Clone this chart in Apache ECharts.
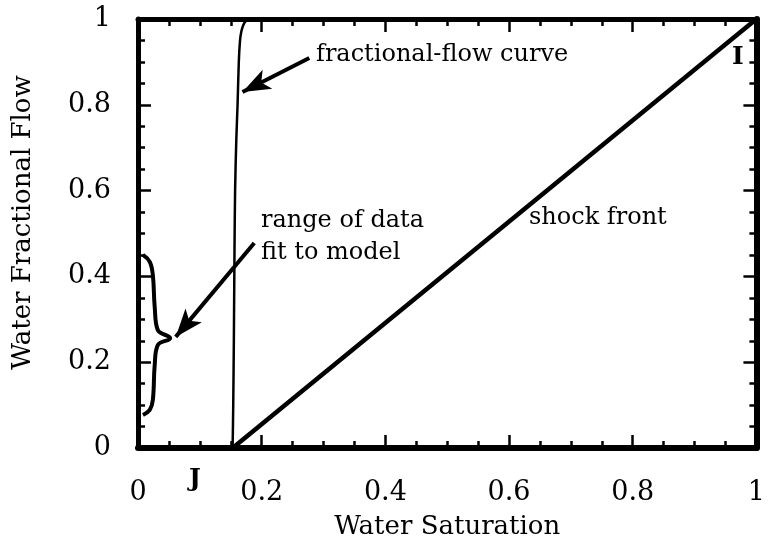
<!DOCTYPE html>
<html>
<head>
<meta charset="utf-8">
<script src="https://cdn.jsdelivr.net/npm/echarts@6/dist/echarts.min.js"></script>
<style>html,body{margin:0;padding:0;background:#fff}#c{width:768px;height:552px}</style>
</head>
<body>
<div id="c"></div>
<script>
// ---- data ----
var ffSw = [0.153, 0.154, 0.155, 0.156, 0.157, 0.159, 0.161, 0.163, 0.165, 0.167, 0.170, 0.174, 0.179, 0.187];
var ffFw = [0, 0.1, 0.25, 0.45, 0.6, 0.72, 0.8, 0.9, 0.95, 0.97, 0.985, 0.995, 1.0, 1.0];
var shockSw = [0.153, 1.0];
var shockFw = [0, 1.0];
var braceSw = [0.008, 0.019, 0.024, 0.027, 0.032, 0.052, 0.032, 0.027, 0.024, 0.019, 0.008];
var braceFw = [0.450, 0.434, 0.403, 0.329, 0.275, 0.256, 0.240, 0.193, 0.112, 0.089, 0.077];
var arrowFF = [[0.277, 0.909], [0.169, 0.830]];
var arrowRange = [[0.188, 0.478], [0.061, 0.259]];
var xTicks = [0, 0.2, 0.4, 0.6, 0.8, 1];
var yTicks = [0, 0.2, 0.4, 0.6, 0.8, 1];

function zip(a, b) { return a.map(function (v, i) { return [v, b[i]]; }); }

var FONT = 'DejaVu Serif';
var chart = echarts.init(document.getElementById('c'), null, { renderer: 'canvas' });

function axisBase(pos, showLabel, isX, lw) {
  return {
    type: 'value', position: pos, min: 0, max: 1, interval: 0.2,
    axisLine: { show: true, onZero: false, lineStyle: { color: '#000', width: lw } },
    axisTick: { show: true, inside: true, length: 13, lineStyle: { color: '#000', width: 2.5 } },
    minorTick: { show: true, splitNumber: 4, length: 7, lineStyle: { color: '#000', width: 2.5 } },
    splitLine: { show: false },
    axisLabel: {
      show: showLabel, color: '#000', fontFamily: FONT, fontSize: 27,
      margin: isX ? 31 : 27,
      formatter: function (v) { return String(Math.round(v * 10) / 10); }
    }
  };
}

var xMain = axisBase('bottom', true, true, 6);
xMain.name = 'Water Saturation';
xMain.nameLocation = 'middle';
xMain.nameGap = 66;
xMain.nameTextStyle = { color: '#000', fontFamily: FONT, fontSize: 26 };
var yMain = axisBase('left', true, false, 5);
yMain.name = 'Water Fractional Flow';
yMain.nameLocation = 'middle';
yMain.nameGap = 102;
yMain.nameTextStyle = { color: '#000', fontFamily: FONT, fontSize: 26, padding: [0, 0, 0, 22] };

var option = {
  backgroundColor: '#fff',
  animation: false,
  grid: { left: 138, right: 9, top: 19, bottom: 104, containLabel: false },
  xAxis: [xMain, axisBase('top', false, true, 5)],
  yAxis: [yMain, axisBase('right', false, false, 6)],
  series: [
    {
      type: 'line', name: 'fractional-flow curve', data: zip(ffSw, ffFw),
      showSymbol: false, smooth: 0.3, lineStyle: { color: '#000', width: 2.5 }, z: 3
    },
    {
      type: 'line', name: 'shock front', data: zip(shockSw, shockFw),
      showSymbol: false, lineStyle: { color: '#000', width: 4.5 }, z: 3,
      markLine: {
        silent: true, symbol: ['none', 'arrow'], symbolSize: [16, 28],
        label: { show: false },
        lineStyle: { color: '#000', width: 4, type: 'solid' },
        data: [
          [{ coord: arrowFF[0] }, { coord: arrowFF[1] }],
          [{ coord: arrowRange[0] }, { coord: arrowRange[1] }]
        ]
      }
    },
    {
      type: 'line', name: 'brace', data: zip(braceSw, braceFw),
      showSymbol: false, smooth: 0.4, lineStyle: { color: '#000', width: 4 }, z: 3
    }
  ],
  graphic: [
    { type: 'text', left: 316, top: 43, style: { text: 'fractional-flow curve', font: '24px "DejaVu Serif"', fill: '#000' } },
    { type: 'text', left: 261, top: 209, style: { text: 'range of data', font: '24px "DejaVu Serif"', fill: '#000' } },
    { type: 'text', left: 261, top: 241, style: { text: 'fit to model', font: '24px "DejaVu Serif"', fill: '#000' } },
    { type: 'text', left: 529, top: 206, style: { text: 'shock front', font: '24px "DejaVu Serif"', fill: '#000' } },
    { type: 'text', left: 732, top: 45, style: { text: 'I', font: 'bold 25px "DejaVu Serif"', fill: '#000' } },
    { type: 'text', left: 189, top: 467, style: { text: 'J', font: 'bold 25px "DejaVu Serif"', fill: '#000' } }
  ]
};
chart.setOption(option);
</script>
</body>
</html>
